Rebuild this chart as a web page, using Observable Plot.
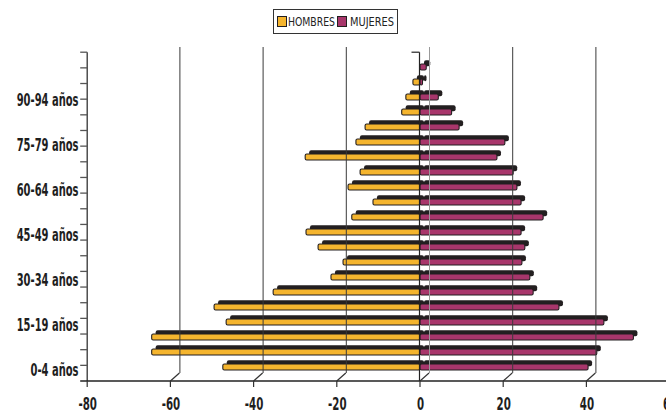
<!DOCTYPE html>
<html><head><meta charset="utf-8">
<script src="https://cdn.jsdelivr.net/npm/d3@7"></script>
<script src="https://cdn.jsdelivr.net/npm/@observablehq/plot@0.6"></script>
<style>
body{margin:0;background:#fff;}
#wrap{position:relative;width:666px;height:414px;overflow:hidden;background:#fff;}
#legend{position:absolute;left:273px;top:9px;width:125px;height:25px;border:1px solid #333;box-sizing:border-box;font-family:"DejaVu Sans Condensed","DejaVu Sans",sans-serif;font-size:13px;color:#222;background:#fff;z-index:2;}
#legend .sw{position:absolute;top:6px;width:8px;height:9px;border:1.5px solid #231f20;}
#legend .tx{position:absolute;top:3px;white-space:nowrap;transform-origin:0 50%;line-height:17px;}
</style></head>
<body><div id="wrap"><div id="legend"></div></div>
<script>
const ages = ["0-4","5-9","10-14","15-19","20-24","25-29","30-34","35-39","40-44","45-49","50-54","55-59","60-64","65-69","70-74","75-79","80-84","85-89","90-94","95-99","100+"];
const hombres = [-47.4,-64.5,-64.5,-46.6,-49.5,-35.3,-21.4,-18.5,-24.5,-27.4,-16.4,-11.3,-17.3,-14.4,-27.6,-15.4,-13.2,-4.4,-3.4,-1.7,0];
const mujeres = [40.4,42.5,51.3,44.2,33.4,27.2,26.4,24.5,25.2,24.3,29.6,24.3,23.3,22.4,18.5,20.4,9.4,7.6,4.4,0.6,1.5];
const yTickLabels = ["0-4 años","15-19 años","30-34 años","45-49 años","60-64 años","75-79 años","90-94 años"];
const xTicks = [-80,-60,-40,-20,0,20,40,60];
const gridTicks = [-60,-40,-20,0,20,40,60];
const series = ["HOMBRES","MUJERES"];
const colors = ["#f5b52e","#a8366b"];
const dark = "#231f20";
const FONT = '"DejaVu Sans Condensed","DejaVu Sans",sans-serif';

const data = ages.flatMap((a,i)=>[
  {age:a, sex:series[0], v:hombres[i]},
  {age:a, sex:series[1], v:mujeres[i]}
]);

function decor(index, scales, values, dims) {
  const x = scales.x, y = scales.y;
  const r = y.range ? y.range() : [52.2, 381];
  const top = Math.min(r[0], r[1]), bottom = Math.max(r[0], r[1]);
  const step = (bottom - top) / ages.length;
  const x0 = x(xTicks[0]);
  const g = d3.create("svg:g").attr("fill","none");
  g.append("line").attr("x1",x0).attr("x2",x0).attr("y1",top).attr("y2",bottom).attr("stroke","#333").attr("stroke-width",1.3);
  for (let k = 0; k < ages.length; k++) {
    const yy = top + k*step;
    g.append("line").attr("x1",x0-7).attr("x2",x0).attr("y1",yy).attr("y2",yy).attr("stroke","#555").attr("stroke-width",1.3);
  }
  g.append("line").attr("x1",x0-7).attr("x2",dims.width).attr("y1",bottom).attr("y2",bottom).attr("stroke","#222").attr("stroke-width",1.6);
  const z = x(0) - 0.5;
  g.append("line").attr("x1",z).attr("x2",z).attr("y1",top).attr("y2",bottom).attr("stroke","#222").attr("stroke-width",1.2);
  g.append("line").attr("x1",z-8).attr("x2",z).attr("y1",top).attr("y2",top).attr("stroke","#222").attr("stroke-width",1.2);
  xTicks.forEach(t => {
    const xx = x(t);
    g.append("line").attr("x1",xx).attr("x2",xx).attr("y1",bottom).attr("y2",bottom+6).attr("stroke","#333").attr("stroke-width",1.2);
    if (t !== xTicks[0]) {
      g.append("line").attr("x1",xx).attr("x2",xx+9).attr("y1",bottom).attr("y2",bottom-8).attr("stroke","#333").attr("stroke-width",1.2);
    }
  });
  return g.node();
}

const chart = Plot.plot({
  width: 666,
  height: 414,
  marginTop: 47,
  marginBottom: 41,
  marginLeft: 87,
  marginRight: 0,
  style: {background: "#fff", fontFamily: FONT},
  x: {domain: [-80, 60], range: [87.2, 669.6], axis: null},
  y: {domain: ages.slice().reverse(), range: [52.2, 381], paddingInner: 0.6, paddingOuter: 0.3, axis: null},
  color: {domain: series, range: colors},
  marks: [
    Plot.barX(data, {x1: d => 0, x2: "v", y: "age", fill: dark, dx: 4, dy: -3.8, rx: 2}),
    Plot.barX(data, {x1: d => 0, x2: "v", y: "age", fill: "sex", stroke: dark, strokeWidth: 1.1, rx: 1.5}),
    Plot.ruleX(gridTicks, {x: d => d, dx: 9, stroke: d => d === 0 ? "#999" : "#3a3a3a", strokeWidth: 1}),
    decor,
    Plot.text(yTickLabels, {y: d => d.replace(" años",""), text: d => d, frameAnchor: "left", textAnchor: "end", dx: -9, dy: 3, fontSize: 17, fontWeight: "bold", fill: "#1e1e1e"}),
    Plot.text(xTicks, {x: d => d, text: d => String(d), frameAnchor: "bottom", dy: 36, fontSize: 18, fontWeight: "bold", fill: "#1e1e1e"})
  ]
});
const wrap = document.getElementById("wrap");
wrap.appendChild(chart);
chart.style.position = "absolute"; chart.style.left = "0"; chart.style.top = "0";

// condense text like the reference's narrow typeface
const texts = Array.from(chart.querySelectorAll("text"));
const yl = texts.filter(t => t.textContent.includes("años"));
const xl = texts.filter(t => !t.textContent.includes("años"));
const ref0 = yl.find(t => t.textContent === yTickLabels[0]);
const ky = ref0 ? 48 / ref0.getComputedTextLength() : 0.7;
yl.forEach(t => { const w = t.getComputedTextLength(); t.setAttribute("textLength", (w*ky).toFixed(1)); t.setAttribute("lengthAdjust","spacingAndGlyphs"); });
const refx = xl.find(t => t.textContent === String(xTicks[0]));
const kx = refx ? 18.5 / refx.getComputedTextLength() : 0.6;
xl.forEach(t => { const w = t.getComputedTextLength(); t.setAttribute("textLength", (w*kx).toFixed(1)); t.setAttribute("lengthAdjust","spacingAndGlyphs"); });

// legend
const leg = document.getElementById("legend");
const swX = [3, 63], txX = [14, 76], txW = [47, 44];
series.forEach((s,i)=>{
  const sw = document.createElement("span"); sw.className="sw"; sw.style.background=colors[i]; sw.style.left = swX[i]+"px";
  const tx = document.createElement("span"); tx.className="tx"; tx.textContent = s; tx.style.left = txX[i]+"px";
  leg.appendChild(sw); leg.appendChild(tx);
  const w = tx.getBoundingClientRect().width;
  tx.style.transform = `scaleX(${(txW[i]/w).toFixed(3)})`;
});
</script>
</body></html>
